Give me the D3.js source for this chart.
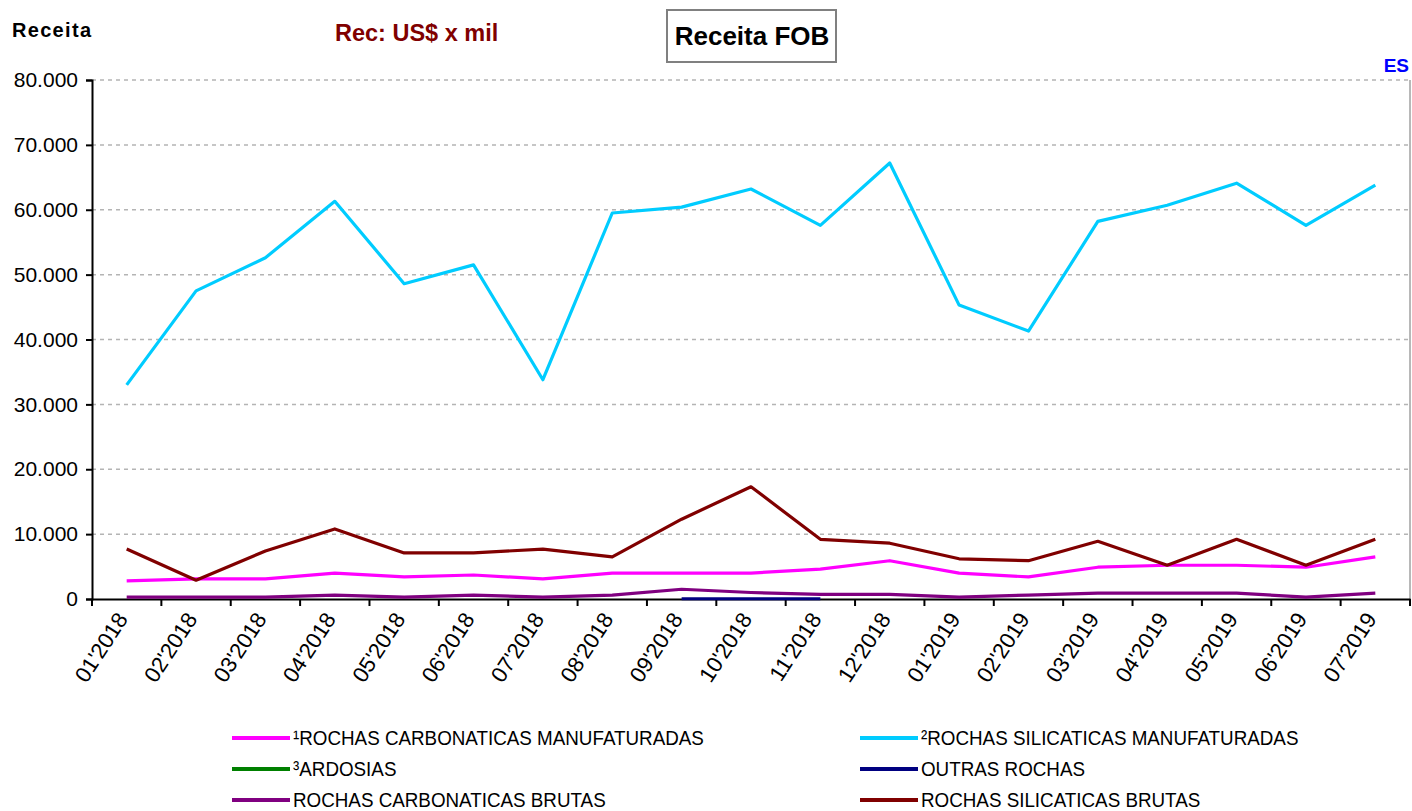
<!DOCTYPE html>
<html>
<head>
<meta charset="utf-8">
<script src="https://cdn.jsdelivr.net/npm/d3@7"></script>
<style>
body { margin: 0; background: #fff; }
svg { display: block; font-family: "Liberation Sans", Arial, sans-serif; }
</style>
</head>
<body>
<svg width="1412" height="811"></svg>
<script>
var months = ["01'2018","02'2018","03'2018","04'2018","05'2018","06'2018","07'2018","08'2018","09'2018","10'2018","11'2018","12'2018",
	"01'2019","02'2019","03'2019","04'2019","05'2019","06'2019","07'2019"];

var carbManuf = [2800,3100,3100,4000,3400,3700,3100,4000,4000,4000,4600,5900,4000,3400,4900,5200,5200,4900,6500];
var silicManuf = [33000,47500,52600,61300,48600,51500,33800,59500,60400,63200,57600,67200,45300,41300,58200,60700,64100,57600,63800];
var ardosias = [null,null,null,null,null,null,null,null,null,null,null,null,null,null,null,null,null,null,null];
var outras = [null,null,null,null,null,null,null,null,40,40,40,null,null,null,null,null,null,null,null];
var carbBrutas = [300,300,300,600,300,600,300,600,1500,1000,700,700,300,600,900,900,900,300,900];
var silicBrutas = [7700,2900,7400,10800,7100,7100,7700,6500,12300,17300,9200,8600,6200,5900,8900,5200,9200,5200,9200];

var yTicks = [0,10000,20000,30000,40000,50000,60000,70000,80000];

var series = [
	{name: "\u00B9ROCHAS CARBONATICAS MANUFATURADAS", values: carbManuf, color: "#ff00ff"},
	{name: "\u00B2ROCHAS SILICATICAS MANUFATURADAS", values: silicManuf, color: "#00ccff"},
	{name: "\u00B3ARDOSIAS", values: ardosias, color: "#008000"},
	{name: "OUTRAS ROCHAS", values: outras, color: "#000080"},
	{name: "ROCHAS CARBONATICAS BRUTAS", values: carbBrutas, color: "#800080"},
	{name: "ROCHAS SILICATICAS BRUTAS", values: silicBrutas, color: "#800000"}
];

var pLeft = 92, pRight = 1410, pTop = 80, pBottom = 599;
var svg = d3.select("svg");

var x = d3.scaleBand().domain(months).range([pLeft, pRight]);
var y = d3.scaleLinear().domain([0, 80000]).range([pBottom, pTop]);
var fmt = d => d3.format(",")(d).replace(/,/g, ".");

// grid
svg.append("g").selectAll("line")
	.data(yTicks.filter(d => d > 0))
	.enter().append("line")
	.attr("x1", pLeft).attr("x2", pRight)
	.attr("y1", d => y(d)).attr("y2", d => y(d))
	.attr("stroke", "#b4b4b4").attr("stroke-width", 1.5)
	.attr("stroke-dasharray", "4,4");

// right border
svg.append("line")
	.attr("x1", pRight).attr("x2", pRight).attr("y1", pTop).attr("y2", pBottom)
	.attr("stroke", "#a0a0a0").attr("stroke-width", 1.5);

// y axis
var yAxis = svg.append("g")
	.attr("transform", "translate(" + pLeft + ",0)")
	.call(d3.axisLeft(y).tickValues(yTicks).tickFormat(fmt).tickSize(6).tickPadding(8));
yAxis.select(".domain").attr("stroke", "#000").attr("stroke-width", 2);
yAxis.selectAll(".tick line").attr("stroke", "#000").attr("stroke-width", 2);
yAxis.selectAll("text").attr("font-size", 21).attr("fill", "#000")
	.attr("font-family", "Liberation Sans, Arial, sans-serif");

// x axis
var xAxis = svg.append("g")
	.attr("transform", "translate(0," + pBottom + ")")
	.call(d3.axisBottom(x).tickSize(0).tickPadding(0));
xAxis.select(".domain").attr("stroke", "#000").attr("stroke-width", 2);
xAxis.selectAll(".tick line").remove();
xAxis.selectAll("text")
	.attr("font-size", 22).attr("fill", "#000")
	.attr("font-family", "Liberation Sans, Arial, sans-serif")
	.attr("text-anchor", "end")
	.attr("dy", null).attr("y", 0)
	.attr("transform", "translate(2,20) rotate(-57)");

// x ticks at band boundaries
var bounds = months.map(m => x(m)).concat([pRight]);
svg.append("g").selectAll("line")
	.data(bounds)
	.enter().append("line")
	.attr("x1", d => d).attr("x2", d => d)
	.attr("y1", pBottom).attr("y2", pBottom + 7)
	.attr("stroke", "#000").attr("stroke-width", 2);

// lines
var line = d3.line()
	.defined(d => d.v !== null)
	.x(d => x(d.m) + x.bandwidth() / 2)
	.y(d => y(d.v));

svg.append("g").selectAll("path")
	.data(series)
	.enter().append("path")
	.attr("fill", "none")
	.attr("stroke", d => d.color)
	.attr("stroke-width", 3.2)
	.attr("stroke-linejoin", "round")
	.attr("d", d => line(d.values.map((v, i) => ({m: months[i], v: v}))));

// header texts
svg.append("text").attr("x", 12).attr("y", 37)
	.attr("font-size", 20).attr("font-weight", "bold")
	.attr("textLength", 79).attr("lengthAdjust", "spacing").text("Receita");
svg.append("text").attr("x", 335).attr("y", 41)
	.attr("font-size", 23.5).attr("font-weight", "bold").attr("fill", "#800000").text("Rec: US$ x mil");
svg.append("rect").attr("x", 667).attr("y", 10).attr("width", 169).attr("height", 52)
	.attr("fill", "#fff").attr("stroke", "#808080").attr("stroke-width", 2);
svg.append("text").attr("x", 752).attr("y", 45).attr("text-anchor", "middle")
	.attr("font-size", 26).attr("font-weight", "bold").text("Receita FOB");
svg.append("text").attr("x", 1409).attr("y", 72).attr("text-anchor", "end")
	.attr("font-size", 19).attr("font-weight", "bold").attr("fill", "#0000ff").text("ES");

// legend
var legend = svg.append("g").selectAll("g")
	.data(series)
	.enter().append("g")
	.attr("transform", (d, i) => "translate(" + (i % 2 ? 860 : 232) + "," + (738 + Math.floor(i / 2) * 31) + ")");
legend.append("line")
	.attr("x1", 0).attr("x2", 58)
	.attr("stroke", d => d.color).attr("stroke-width", 4);
legend.append("text")
	.attr("x", 61).attr("y", 7)
	.attr("font-size", 20)
	.text(d => d.name)
	.each(function() {
		var len = this.getComputedTextLength();
		d3.select(this).attr("textLength", len * 0.94).attr("lengthAdjust", "spacingAndGlyphs");
	});
</script>
</body>
</html>
